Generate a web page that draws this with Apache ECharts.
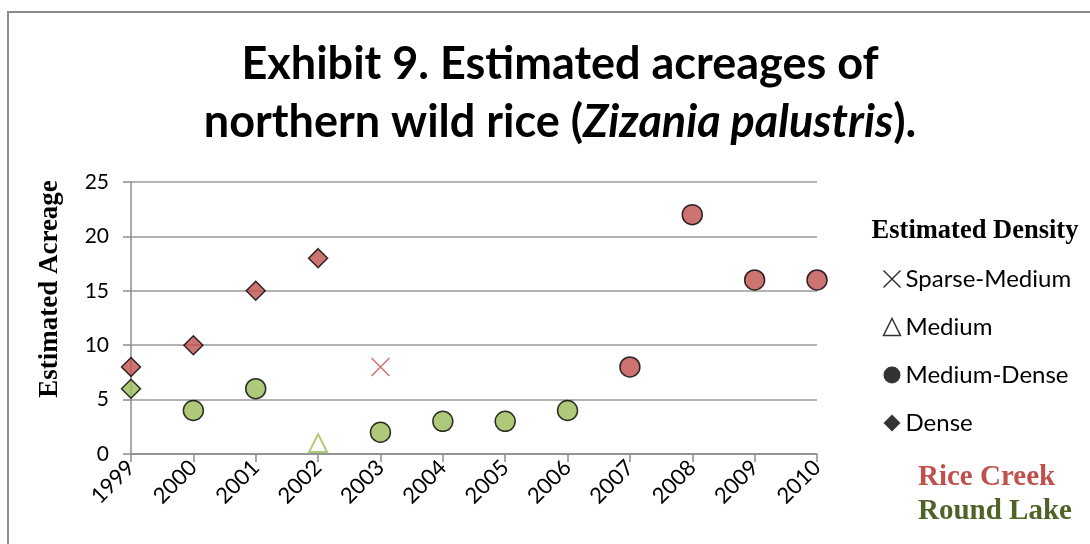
<!DOCTYPE html>
<html>
<head>
<meta charset="utf-8">
<title>Exhibit 9</title>
<script src="https://cdn.jsdelivr.net/npm/echarts@6/dist/echarts.min.js"></script>
<style>
  html, body { margin: 0; padding: 0; background: #fff; }
  #chart { width: 1090px; height: 544px; }
</style>
</head>
<body>
<div id="chart"></div>
<script>
// categories
var years = ['1999', '2000', '2001', '2002', '2003', '2004', '2005', '2006', '2007', '2008', '2009', '2010'];
var yTicks = [0, 5, 10, 15, 20, 25];

// Rice Creek (null = no estimate of that density that year)
var riceSparseMedium = [null, null, null, null, 8, null, null, null, null, null, null, null];
var riceDense        = [8, 10, 15, 18, null, null, null, null, null, null, null, null];
var riceMediumDense  = [null, null, null, null, null, null, null, null, 8, 22, 16, 16];

// Round Lake
var roundMedium      = [null, null, null, 1, null, null, null, null, null, null, null, null];
var roundDense       = [6, null, null, null, null, null, null, null, null, null, null, null];
var roundMediumDense = [null, 4, 6, null, 2, 3, 3, 4, null, null, null, null];

var RED = '#C0504D';
var GREEN = '#9BBB59';
var CROSS = 'path://M0,0L10,10M10,0L0,10';
var labelFont = 'Lato';
var serif = '"Liberation Serif", "Times New Roman", serif';

var mChart = echarts.init(document.getElementById('chart'));

function pts(arr) {
    return arr.map(function (v, i) { return [i, v]; }).filter(function (p) { return p[1] != null; });
}

var option = {
    animation: false,
    title: {
        text: '{b|Exhibit 9. Estimated acreages of}\n{b|northern wild rice (}{i|Zizania palustris}{b|).}',
        left: 555,
        top: 30,
        textAlign: 'center',
        textStyle: {
            rich: {
                b: { fontFamily: labelFont, fontWeight: 'bold', fontSize: 45, color: '#000', lineHeight: 58 },
                i: { fontFamily: labelFont, fontWeight: 'bold', fontStyle: 'italic', fontSize: 45, color: '#000', lineHeight: 58 }
            }
        }
    },
    grid: { left: 131, right: 273, top: 182, bottom: 90 },
    legend: {
        data: [
            { name: 'Sparse-Medium', icon: CROSS, itemStyle: { color: 'none', borderColor: '#000', borderWidth: 1.5 } },
            { name: 'Medium', icon: 'triangle', itemStyle: { color: '#fff', borderColor: '#000', borderWidth: 1.5 } },
            { name: 'Medium-Dense', icon: 'circle', itemStyle: { color: '#000', borderWidth: 0 } },
            { name: 'Dense', icon: 'diamond', itemStyle: { color: '#000', borderWidth: 0 } }
        ],
        orient: 'vertical',
        left: 876,
        top: 262,
        itemWidth: 17,
        itemHeight: 17,
        itemGap: 24,
        selectedMode: false,
        textStyle: { fontFamily: labelFont, fontSize: 24, color: '#000' }
    },
    xAxis: {
        type: 'category',
        data: years,
        boundaryGap: false,
        axisLine: { lineStyle: { color: '#8c8c8c', width: 1.5 } },
        axisTick: { alignWithLabel: true, length: 8, lineStyle: { color: '#8c8c8c', width: 1.5 } },
        axisLabel: { interval: 0, rotate: 45, margin: 10, color: '#000', fontFamily: labelFont, fontSize: 22 }
    },
    yAxis: {
        type: 'value',
        min: yTicks[0],
        max: yTicks[yTicks.length - 1],
        interval: 5,
        axisLine: { show: true, lineStyle: { color: '#8c8c8c', width: 1.5 } },
        axisTick: { show: true, length: 8, lineStyle: { color: '#8c8c8c', width: 1.5 } },
        splitLine: { lineStyle: { color: '#9a9a9a', width: 1.5 } },
        axisLabel: { margin: 22, color: '#000', fontFamily: labelFont, fontSize: 21 }
    },
    graphic: [
        { type: 'rect', shape: { x: 8, y: 12, width: 1200, height: 700 }, style: { fill: 'none', stroke: '#8c8c8c', lineWidth: 2 }, silent: true },
        { type: 'text', x: 50, y: 289, rotation: Math.PI / 2,
          style: { text: 'Estimated Acreage', font: 'bold 27px ' + serif, fill: '#000', textAlign: 'center', textVerticalAlign: 'middle' } },
        { type: 'text', x: 975, y: 231,
          style: { text: 'Estimated Density', font: 'bold 26.5px ' + serif, fill: '#000', textAlign: 'center', textVerticalAlign: 'middle' } },
        { type: 'text', x: 918, y: 478,
          style: { text: 'Rice Creek', font: 'bold 29px ' + serif, fill: RED, textAlign: 'left', textVerticalAlign: 'middle' } },
        { type: 'text', x: 918, y: 512,
          style: { text: 'Round Lake', font: 'bold 29px ' + serif, fill: '#4F6228', textAlign: 'left', textVerticalAlign: 'middle' } }
    ],
    series: [
        // legend-only series (black symbols)
        { name: 'Sparse-Medium', type: 'scatter', data: [], symbol: CROSS },
        { name: 'Medium', type: 'scatter', data: [], symbol: 'triangle' },
        { name: 'Medium-Dense', type: 'scatter', data: [], symbol: 'circle' },
        { name: 'Dense', type: 'scatter', data: [], symbol: 'diamond' },
        // Rice Creek
        { name: 'rc-sm', type: 'scatter', data: pts(riceSparseMedium), symbol: CROSS, symbolSize: 18,
          itemStyle: { color: 'none', borderColor: RED, borderWidth: 1.5 } },
        { name: 'rc-d', type: 'scatter', data: pts(riceDense), symbol: 'diamond', symbolSize: 19,
          itemStyle: { color: RED, borderColor: '#000', borderWidth: 1.5 } },
        { name: 'rc-md', type: 'scatter', data: pts(riceMediumDense), symbol: 'circle', symbolSize: 20,
          itemStyle: { color: RED, borderColor: '#000', borderWidth: 1.5 } },
        // Round Lake
        { name: 'rl-m', type: 'scatter', data: pts(roundMedium), symbol: 'triangle', symbolSize: 18,
          itemStyle: { color: '#fff', borderColor: GREEN, borderWidth: 2 } },
        { name: 'rl-d', type: 'scatter', data: pts(roundDense), symbol: 'diamond', symbolSize: 19,
          itemStyle: { color: GREEN, borderColor: '#000', borderWidth: 1.5 } },
        { name: 'rl-md', type: 'scatter', data: pts(roundMediumDense), symbol: 'circle', symbolSize: 20,
          itemStyle: { color: GREEN, borderColor: '#000', borderWidth: 1.5 } }
    ]
};

mChart.setOption(option);
</script>
</body>
</html>
